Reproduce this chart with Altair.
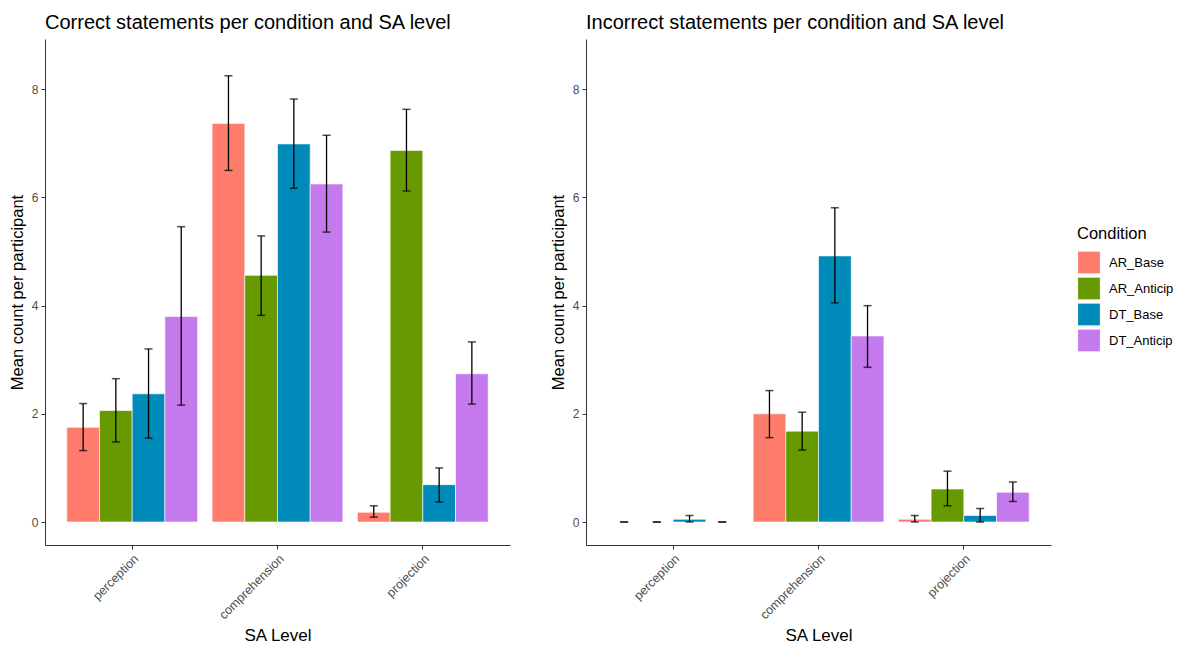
import altair as alt
import pandas as pd

levels = ["perception", "comprehension", "projection"]
conditions = ["AR_Base", "AR_Anticip", "DT_Base", "DT_Anticip"]
colors = ["#FF7C6C", "#679900", "#008ABA", "#C47AEC"]

# rows: levels, columns: conditions
correct_mean = [[1.75, 2.06, 2.37, 3.80],
                [7.37, 4.56, 6.99, 6.25],
                [0.18, 6.87, 0.69, 2.74]]
correct_low = [[1.32, 1.48, 1.55, 2.16],
               [6.50, 3.82, 6.17, 5.36],
               [0.09, 6.12, 0.37, 2.18]]
correct_high = [[2.19, 2.65, 3.20, 5.46],
                [8.25, 5.29, 7.82, 7.15],
                [0.30, 7.63, 1.00, 3.33]]

incorrect_mean = [[0.00, 0.00, 0.05, 0.00],
                  [2.00, 1.68, 4.92, 3.44],
                  [0.05, 0.61, 0.12, 0.55]]
incorrect_low = [[0.00, 0.00, 0.00, 0.00],
                 [1.56, 1.33, 4.05, 2.86],
                 [0.00, 0.30, 0.00, 0.38]]
incorrect_high = [[0.00, 0.00, 0.12, 0.00],
                  [2.43, 2.03, 5.81, 4.00],
                  [0.12, 0.94, 0.25, 0.74]]


def make_df(means, lows, highs):
    rows = []
    for i, lv in enumerate(levels):
        for j, c in enumerate(conditions):
            rows.append(dict(level=lv, cond=c, mean=means[i][j],
                             lo=lows[i][j], hi=highs[i][j], zero=0.0))
    return pd.DataFrame(rows)


def panel(df, title):
    x = alt.X("level:N", sort=levels, title="SA Level",
              scale=alt.Scale(paddingInner=0.1, paddingOuter=0.15),
              axis=alt.Axis(labelAngle=-45, labelAlign="right", labelBaseline="top",
                            labelFontSize=12.5, labelColor="#4D4D4D", labelPadding=3,
                            tickColor="#333333", domainColor="#333333", tickSize=4,
                            titleFontSize=17, titleFontWeight="normal", titleColor="black",
                            titlePadding=6))
    xo = alt.XOffset("cond:N", sort=conditions,
                     scale=alt.Scale(domain=conditions, paddingInner=0, paddingOuter=0))
    yscale = alt.Scale(domain=[-0.425, 8.93], nice=False, zero=False)
    yaxis = alt.Axis(values=[0, 2, 4, 6, 8], grid=False, labelFontSize=12,
                     labelColor="#4D4D4D", tickColor="#333333", domainColor="#333333",
                     tickSize=4, labelPadding=3, titleFontSize=16.5,
                     titleFontWeight="normal", titleColor="black", titlePadding=6)
    base = alt.Chart(df)
    bars = base.mark_bar(stroke="white", strokeOpacity=0.6, strokeWidth=1).encode(
        x=x, xOffset=xo,
        y=alt.Y("mean:Q", scale=yscale, axis=yaxis, title="Mean count per participant"),
        y2="zero:Q",
        color=alt.Color("cond:N", sort=conditions,
                        scale=alt.Scale(domain=conditions, range=colors),
                        legend=alt.Legend(title="Condition", orient="none",
                                          legendX=1032, legendY=187,
                                          titleFontSize=16.5, titleFontWeight="normal",
                                          titleColor="black", labelFontSize=13,
                                          labelColor="black", symbolType="square",
                                          symbolSize=520, symbolStrokeColor="white",
                                          symbolStrokeWidth=1, rowPadding=-4,
                                          titlePadding=8, labelOffset=8)),
    )
    rules = base.mark_rule(color="black", strokeWidth=1.3).encode(
        x=x, xOffset=xo, y=alt.Y("lo:Q", scale=yscale), y2="hi:Q")
    cap_lo = base.mark_tick(color="black", size=8, thickness=1.5).encode(
        x=x, xOffset=xo, y=alt.Y("lo:Q", scale=yscale))
    cap_hi = base.mark_tick(color="black", size=8, thickness=1.5).encode(
        x=x, xOffset=xo, y=alt.Y("hi:Q", scale=yscale))
    return alt.layer(bars, rules, cap_lo, cap_hi).properties(
        width=465, height=506,
        title=alt.TitleParams(title, anchor="start", frame="group", fontSize=20,
                              fontWeight="normal", color="black", offset=6))


left = panel(make_df(correct_mean, correct_low, correct_high),
             "Correct statements per condition and SA level")
right = panel(make_df(incorrect_mean, incorrect_low, incorrect_high),
              "Incorrect statements per condition and SA level")

chart = alt.hconcat(left, right, spacing=40).properties(
    padding={"left": 1, "top": 5, "right": 5, "bottom": 0}
).configure(font="Liberation Sans").configure_view(stroke=None)

chart.save("out.html", embed_options={"renderer": "svg", "actions": False})
